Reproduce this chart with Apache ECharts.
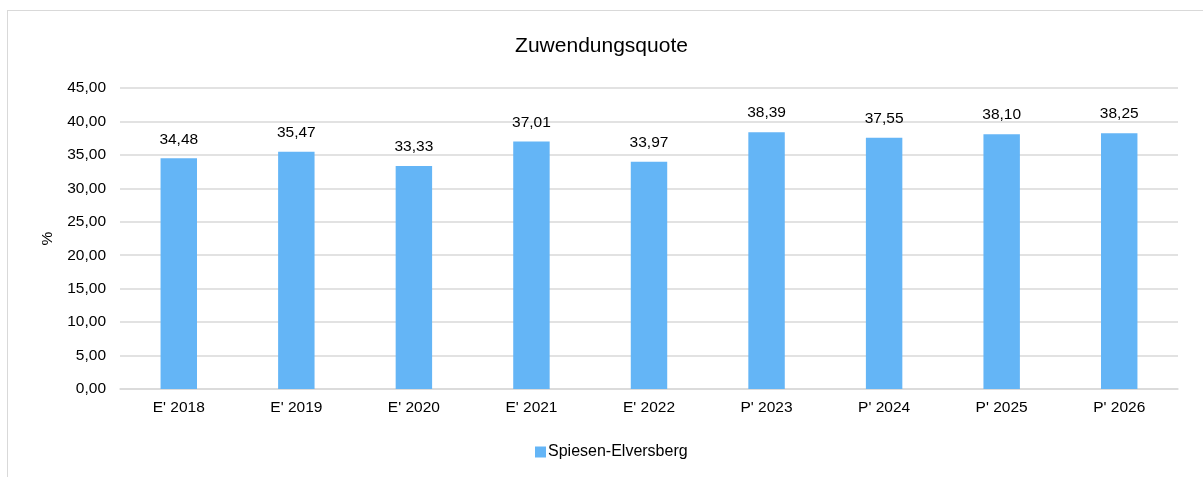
<!DOCTYPE html>
<html>
<head>
<meta charset="utf-8">
<script src="https://cdn.jsdelivr.net/npm/echarts@6/dist/echarts.min.js"></script>
<style>
  html, body { margin: 0; padding: 0; background: #fff; }
  #frame { position: absolute; left: 7px; top: 10px; width: 1300px; height: 600px; border: 1px solid #d9d9d9; box-sizing: border-box; }
  #chart { position: absolute; left: 0; top: 0; width: 1203px; height: 477px; }
</style>
</head>
<body>
<div id="frame"></div>
<div id="chart"></div>
<script>
var categories = ["E' 2018", "E' 2019", "E' 2020", "E' 2021", "E' 2022", "P' 2023", "P' 2024", "P' 2025", "P' 2026"];
var quote = [34.48, 35.47, 33.33, 37.01, 33.97, 38.39, 37.55, 38.10, 38.25];
var seriesName = "Spiesen-Elversberg";

function fmt(v) {
  return Number(v).toFixed(2).replace(".", ",");
}

var chart = echarts.init(document.getElementById("chart"));
chart.setOption({
  animation: false,
  textStyle: { fontFamily: "Liberation Sans, Arial, sans-serif" },
  title: {
    text: "Zuwendungsquote",
    left: "center",
    top: 31,
    textStyle: { fontSize: 21, fontWeight: "normal", color: "#000" }
  },
  legend: {
    data: [seriesName],
    bottom: 12,
    left: 530,
    itemWidth: 11,
    itemHeight: 11,
    itemGap: 0,
    icon: "rect",
    textStyle: { fontSize: 16, color: "#000", padding: [0, 0, 0, -3] }
  },
  grid: { left: 120, right: 25, top: 88, bottom: 88, containLabel: false },
  xAxis: {
    type: "category",
    data: categories,
    axisTick: { show: false },
    axisLine: { lineStyle: { color: "#d9d9d9", width: 1.5 } },
    axisLabel: { color: "#000", fontSize: 15.5, margin: 11 }
  },
  yAxis: {
    type: "value",
    min: 0,
    max: 45,
    interval: 5,
    name: "%",
    nameLocation: "middle",
    nameRotate: 90,
    nameGap: 64,
    nameTextStyle: { fontSize: 15.5, color: "#000" },
    axisLine: { show: false },
    axisTick: { show: false },
    axisLabel: { color: "#000", fontSize: 15.5, margin: 14, formatter: fmt },
    splitLine: { lineStyle: { color: "#d9d9d9", width: 1.5 } }
  },
  series: [{
    name: seriesName,
    type: "bar",
    data: quote,
    barWidth: "31%",
    itemStyle: { color: "#64b5f6" },
    label: {
      show: true,
      position: "top",
      distance: 11,
      color: "#000",
      fontSize: 15.5,
      formatter: function (p) { return fmt(p.value); }
    }
  }]
});
</script>
</body>
</html>
